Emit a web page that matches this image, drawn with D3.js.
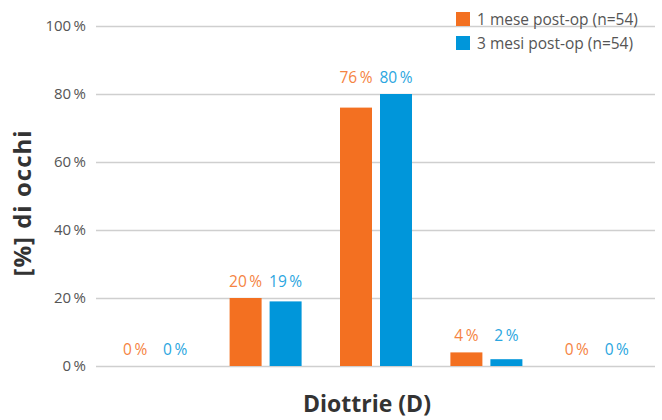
<!DOCTYPE html>
<html>
<head>
<meta charset="utf-8">
<script src="https://cdn.jsdelivr.net/npm/d3@7"></script>
<style>
  body { margin: 0; background: #fff; }
  svg text { font-family: "Open Sans", "Noto Sans", sans-serif; }
  svg text.title { font-weight: bold; }
</style>
</head>
<body>
<div class="chart"></div>
<script>
(function() {
  'use strict';

  const categories = ['c1', 'c2', 'c3', 'c4', 'c5'],
        series = ['1 mese post-op (n=54)', '3 mesi post-op (n=54)'],
        mese1 = [0, 20, 76, 4, 0],
        mesi3 = [0, 19, 80, 2, 0],
        yTicks = [0, 20, 40, 60, 80, 100];

  const width = 662, height = 420,
        margin = { top: 26, right: 7, bottom: 54, left: 96 },
        barColors = ['#F37021', '#0096DA'],
        labelColors = ['#F58342', '#2BA6E0'];

  let svg = d3.select('.chart')
    .append('svg')
    .attr('width', width)
    .attr('height', height);

  let x = d3.scaleBand()
    .domain(categories)
    .range([margin.left + 4, width - margin.right - 3]);

  let xs = d3.scaleBand()
    .domain([0, 1])
    .range([x.bandwidth() / 2 - 36, x.bandwidth() / 2 + 36])
    .paddingInner(0.2);

  let y = d3.scaleLinear()
    .domain([0, 100])
    .range([height - margin.bottom, margin.top]);

  // grid + tick labels
  let yAxis = svg.append('g')
    .attr('transform', `translate(${margin.left},0)`)
    .call(d3.axisLeft(y)
      .tickValues(yTicks)
      .tickSize(-(width - margin.left - margin.right))
      .tickPadding(10)
      .tickFormat(d => d + '\u2009%'));

  yAxis.select('.domain').remove();
  yAxis.selectAll('.tick line')
    .attr('stroke', '#cfcfcf')
    .attr('stroke-width', 1.5);
  yAxis.selectAll('.tick text')
    .attr('fill', '#555')
    .style('font-size', '15px');

  let data = categories.map((c, i) => ({ cat: c, vals: [mese1[i], mesi3[i]] }));

  let groups = svg.selectAll('.grp')
    .data(data)
    .enter()
    .append('g')
    .attr('class', 'grp')
    .attr('transform', d => `translate(${x(d.cat)},0)`);

  groups.selectAll('rect')
    .data(d => d.vals)
    .enter()
    .append('rect')
    .attr('x', (v, i) => xs(i))
    .attr('width', xs.bandwidth())
    .attr('y', v => y(v))
    .attr('height', v => y(0) - y(v))
    .attr('fill', (v, i) => barColors[i]);

  groups.each(function(d) {
    let top = y(d3.max(d.vals)) - 11;
    d3.select(this).selectAll('text')
      .data(d.vals)
      .enter()
      .append('text')
      .attr('x', (v, i) => xs(i) + xs.bandwidth() / 2)
      .attr('y', top)
      .attr('text-anchor', 'middle')
      .attr('fill', (v, i) => labelColors[i])
      .style('font-size', '15.5px')
      .text(v => v + '\u2009%');
  });

  // legend
  let legend = svg.selectAll('.legend')
    .data(series)
    .enter()
    .append('g')
    .attr('class', 'legend')
    .attr('transform', (d, i) => `translate(456,${12 + i * 24})`);

  legend.append('rect')
    .attr('width', 14)
    .attr('height', 14)
    .attr('fill', (d, i) => barColors[i]);

  legend.append('text')
    .attr('x', 21)
    .attr('y', 13)
    .attr('fill', '#555')
    .style('font-size', '15.5px')
    .text(d => d);

  // axis titles
  svg.append('text')
    .attr('class', 'title')
    .attr('transform', 'translate(31,203) rotate(-90)')
    .attr('text-anchor', 'middle')
    .attr('fill', '#333')
    .style('font-size', '24px')
    .style('letter-spacing', '1px')
    .text('[%] di occhi');

  svg.append('text')
    .attr('class', 'title')
    .attr('x', 367)
    .attr('y', 412)
    .attr('text-anchor', 'middle')
    .attr('fill', '#333')
    .style('font-size', '23px')
    .text('Diottrie (D)');

})();
</script>
</body>
</html>
